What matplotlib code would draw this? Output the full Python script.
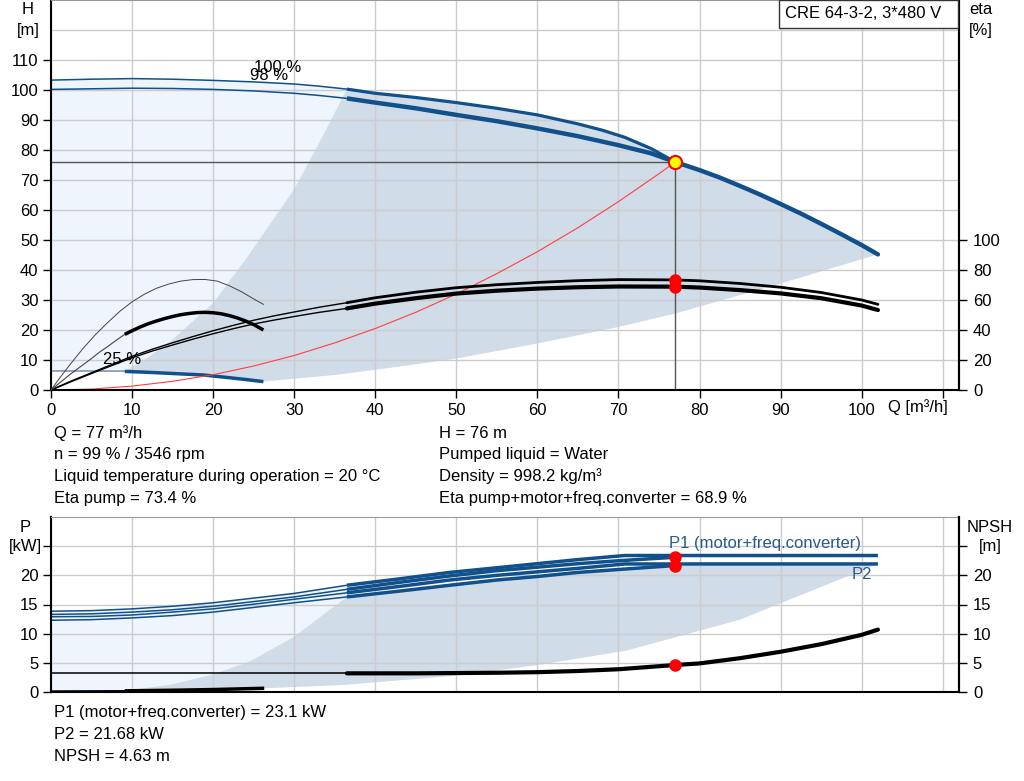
import numpy as np
import matplotlib
matplotlib.use("Agg")
import matplotlib.pyplot as plt
from matplotlib.patches import Rectangle

plt.rcParams['font.family'] = ['Liberation Sans', 'DejaVu Sans']

# ---------------- data ----------------
# head curves (Q in m3/h, H in m)
q_100_thin = [0, 5, 10, 15, 20, 25, 30, 33, 36.5]
h_100_thin = [103.3, 103.6, 103.8, 103.6, 103.2, 102.7, 102.0, 101.3, 100.3]
q_100 = [36.5, 40, 45, 50, 55, 60, 65, 68, 70.8, 74, 77]
h_100 = [100.3, 98.9, 97.5, 95.8, 93.9, 91.7, 88.7, 86.6, 84.2, 80.5, 76]
q_98_thin = [0, 5, 10, 15, 20, 25, 30, 33, 36.5]
h_98_thin = [100.2, 100.4, 100.6, 100.5, 100.2, 99.7, 98.9, 98.2, 97.2]
q_98 = [36.5, 40, 45, 50, 55, 60, 65, 70, 74, 77]
h_98 = [97.2, 95.8, 93.9, 91.7, 89.6, 87.2, 84.6, 81.6, 78.9, 76]
q_max = [77, 80, 82.5, 85, 87.5, 90, 92.5, 95, 97.5, 100, 102]
h_max = [76, 73.3, 70.8, 68, 65.1, 62, 58.8, 55.4, 51.9, 48.3, 45.2]
q_25_thin = [0, 9.1]
h_25_thin = [6.35, 6.3]
q_25 = [9.1, 12, 15, 18.8, 22, 24, 26.2]
h_25 = [6.2, 5.9, 5.5, 5.0, 4.1, 3.5, 2.8]

# operating range boundaries
q_rng_left = [9.1, 12, 15, 20, 24.5, 30, 33.2, 36.5]
h_rng_left = [6.3, 10.9, 16.8, 29, 45.4, 67, 83, 100.3]
q_rng_low = [26.2, 35, 43, 50, 60, 70, 77, 90, 102]
h_rng_low = [2.8, 5, 7.8, 10.5, 15.5, 21, 25.5, 35.5, 45.2]

# system curve
q_sys = [0, 5, 10, 15, 20, 25, 30, 35, 40, 45, 50, 55, 60, 65, 70, 75, 77]
h_sys = [0, 0.3, 1.3, 2.9, 5.1, 8.0, 11.5, 15.7, 20.5, 25.9, 32.0, 38.8, 46.1, 54.1,
         62.8, 72.1, 76]

# efficiency curves (%)
q_eta_thin = [0, 2.5, 5, 7.5, 10, 12.5, 15, 17.5, 20, 22.5, 25, 27.5, 30, 33, 36.5]
eta_pump_thin = [0, 6, 11.5, 17, 22.5, 27.2, 31.5, 35.6, 39.5, 43.1, 46.5, 49.4, 52, 55.1, 58.2]
eta_tot_thin = [0, 5.6, 11, 16.3, 21.5, 26, 30, 33.9, 37.5, 40.9, 44, 46.6, 49, 51.7, 54.4]
q_eta = [36.5, 40, 45, 50, 55, 60, 65, 70, 77, 80, 85, 90, 95, 100, 102]
eta_pump = [58.2, 61.5, 65.2, 68.2, 70.2, 71.7, 72.9, 73.6, 73.4, 72.8, 71, 68.5, 65, 60, 57.1]
eta_tot = [54.4, 57.6, 61.2, 64.3, 66.2, 67.6, 68.5, 69.0, 68.9, 68.3, 66.6, 64.4, 61.2, 56.3, 53.3]
q_eta25_pump = [0, 1, 2.5, 4, 5.5, 7, 8.5, 10, 11.5, 13, 14.5, 16, 17.5, 19, 20.5, 22,
                23.5, 25, 26.2]
eta25_pump = [0, 7.5, 18, 28, 37, 45, 52.5, 58.8, 63.8, 67.8, 70.6, 72.6, 73.6, 73.7,
              72.6, 69.5, 65.5, 60.7, 57.1]
q_eta25_tot_thin = [0, 1, 2.5, 4, 5, 6, 7, 8, 9.1]
eta25_tot_thin = [0, 4.5, 11, 17, 21, 25.3, 29, 33, 37.1]
q_eta25_tot = [9.1, 10, 11, 12, 13, 14, 15, 16, 17, 18, 19, 20, 21, 22, 23, 24, 25, 26.2]
eta25_tot = [37.1, 39.5, 42, 44.2, 46, 47.6, 49, 50.2, 51, 51.6, 51.8, 51.5, 50.8, 49.6,
             48, 46, 43.6, 40]

# power curves (kW)
q_p_thin = [0, 5, 10, 15, 20, 25, 30, 36.5]
p1_100_thin = [13.85, 13.95, 14.25, 14.7, 15.3, 16.1, 16.9, 18.3]
p1_98_thin = [13.3, 13.4, 13.7, 14.1, 14.7, 15.5, 16.3, 17.6]
p2_100_thin = [12.9, 12.95, 13.2, 13.7, 14.25, 15.05, 15.9, 17.0]
p2_98_thin = [12.3, 12.4, 12.7, 13.1, 13.7, 14.5, 15.3, 16.3]
q_p_lim = [36.5, 43, 49.2, 55, 60, 65, 70.8, 80, 90, 102]
p1_100 = [18.3, 19.4, 20.5, 21.3, 22.0, 22.7, 23.4, 23.4, 23.4, 23.4]
p2_100 = [17.0, 18.1, 19.2, 20.0, 20.6, 21.2, 21.95, 21.95, 21.95, 21.95]
q_p_98 = [36.5, 43, 49.2, 55, 60, 65, 70, 77]
p1_98 = [17.6, 18.8, 19.9, 20.8, 21.4, 22.0, 22.5, 23.1]
p2_98 = [16.3, 17.3, 18.3, 19.2, 19.8, 20.5, 21.0, 21.68]
q_p25_thin = [0, 9.1]
p25_thin = [0.15, 0.2]
q_p25 = [9.1, 15, 20, 26.3]
p25 = [0.2, 0.3, 0.42, 0.64]
q_prng_left = [9.1, 14.9, 20, 24.6, 29.9, 36.5]
p_rng_left = [0.2, 1.3, 3.0, 5.3, 9.4, 16.3]
q_prng_low = [26.3, 36, 50, 60, 71, 85, 102]
p_rng_low = [0.64, 1.2, 2.8, 4.6, 7.1, 12.4, 21.95]

# NPSH (m)
q_npsh_thin = [0, 36.5]
npsh_thin = [3.2, 3.2]
q_npsh = [36.5, 45, 50, 55, 60, 65, 70, 77, 80, 85, 90, 95, 100, 102]
npsh = [3.2, 3.2, 3.25, 3.3, 3.4, 3.6, 3.9, 4.63, 4.9, 5.8, 6.9, 8.2, 9.8, 10.7]

# duty point
q_op, h_op = 77, 76
eta_pump_op, eta_tot_op = 73.4, 68.9
p1_op, p2_op, npsh_op = 23.1, 21.68, 4.63

x_ticks = [0, 10, 20, 30, 40, 50, 60, 70, 80, 90, 100, 110]
x_labels = ['0', '10', '20', '30', '40', '50', '60', '70', '80', '90', '100', '']

info_left = ['Q = 77 m³/h', 'n = 99 % / 3546 rpm',
             'Liquid temperature during operation = 20 °C', 'Eta pump = 73.4 %']
info_right = ['H = 76 m', 'Pumped liquid = Water', 'Density = 998.2 kg/m³',
              'Eta pump+motor+freq.converter = 68.9 %']
info_power = ['P1 (motor+freq.converter) = 23.1 kW', 'P2 = 21.68 kW', 'NPSH = 4.63 m']

# ---------------- style ----------------
BLUE = '#11508a'
LIGHT = '#eef5fc'
GRAY = '#d0dce8'
GRID = '#cccccc'
FS = 12
W, H = 1024, 781


def fx(px):
    return px / W


def fy(py):
    return 1 - py / H


fig = plt.figure(figsize=(W / 100, H / 100), dpi=100)

# ================= top chart: H / eta =================
ax = fig.add_axes([fx(51), fy(390), 908 / W, 390 / H])
ax.set_xlim(0, 112)
ax.set_ylim(0, 130)
ax.set_axisbelow('line')
ax.set_xticks(x_ticks)
ax.set_xticklabels(x_labels)
ax.set_yticks(range(0, 111, 10))
ax.grid(True, color=GRID, lw=1)
ax.axhline(120, color=GRID, lw=1, zorder=1.5)
ax.tick_params(labelsize=FS, length=6, width=1, pad=3)
ax.tick_params(axis='x', pad=3)
for s in ['left', 'bottom']:
    ax.spines[s].set_linewidth(1.5)
ax.spines['top'].set_color('#999999')
ax.spines['right'].set_linewidth(1.5)

# light area (thin part of the range)
light_q = list(q_100_thin) + q_rng_left[::-1] + q_25_thin[::-1]
light_h = list(h_100_thin) + h_rng_left[::-1] + h_25_thin[::-1]
ax.fill(light_q, light_h, color=LIGHT, lw=0, zorder=1)
# operating range
rng_q = q_rng_left + q_100 + q_max[1:] + q_rng_low[::-1] + q_25[::-1]
rng_h = h_rng_left + h_100 + h_max[1:] + h_rng_low[::-1] + h_25[::-1]
ax.fill(rng_q, rng_h, color=GRAY, lw=0, zorder=1)

ax.plot(q_100_thin, h_100_thin, color=BLUE, lw=1.1)
ax.plot(q_98_thin, h_98_thin, color=BLUE, lw=1.1)
ax.plot(q_100, h_100, color=BLUE, lw=2.3, solid_capstyle='butt')
ax.plot(q_98, h_98, color=BLUE, lw=3.2, solid_capstyle='butt')
ax.plot(q_max, h_max, color=BLUE, lw=3.2, solid_capstyle='round')
ax.plot(q_25_thin, h_25_thin, color='#7a8ea8', lw=1.1)
ax.plot(q_25, h_25, color=BLUE, lw=2.5, solid_capstyle='butt')
ax.plot(q_sys, h_sys, color='#ff4040', lw=0.8)

ax.plot([0, q_op], [h_op, h_op], color='#555555', lw=1, zorder=2)
ax.plot([q_op, q_op], [0, h_op], color='#555555', lw=1, zorder=2)

ax.text(25.0, 107.6, '100 %', fontsize=FS, ha='left', va='center')
ax.text(24.5, 104.7, '98 %', fontsize=FS, ha='left', va='center')
ax.text(6.4, 10.3, '25 %', fontsize=FS, ha='left', va='center')

# eta axis
axe = ax.twinx()
axe.set_ylim(0, 260)
axe.set_yticks(range(0, 101, 20))
axe.tick_params(labelsize=FS, length=6, width=1, pad=4)
axe.spines['right'].set_linewidth(1.5)
for s in ['left', 'top', 'bottom']:
    axe.spines[s].set_visible(False)

axe.plot(q_eta_thin, eta_pump_thin, color='black', lw=1)
axe.plot(q_eta_thin, eta_tot_thin, color='black', lw=1)
axe.plot(q_eta, eta_pump, color='black', lw=2, solid_capstyle='round')
axe.plot(q_eta, eta_tot, color='black', lw=3, solid_capstyle='round')
axe.plot(q_eta25_pump, eta25_pump, color='#444444', lw=0.7)
axe.plot(q_eta25_tot_thin, eta25_tot_thin, color='#444444', lw=0.8)
axe.plot(q_eta25_tot, eta25_tot, color='black', lw=2.5, solid_capstyle='butt')
axe.plot([q_op, q_op], [eta_pump_op, eta_tot_op], 'o', color='red', ms=8, zorder=5)

# duty point, drawn on the eta axis so it sits above its curves (H = eta / 2)
axe.plot([q_op], [h_op * 2], 'o', ms=9.5, mfc='yellow', mec='red', mew=1.5, zorder=6)

# title box in the upper right corner
fig.add_artist(Rectangle((fx(779), fy(28)), 179 / W, 28 / H, transform=fig.transFigure,
                         fc='white', ec='#333333', lw=1, zorder=5))
fig.text(fx(785), fy(14), 'CRE 64-3-2, 3*480 V', fontsize=FS, ha='left', va='center',
         zorder=6)

fig.text(fx(28), fy(9), 'H', fontsize=FS, ha='center', va='center')
fig.text(fx(28), fy(30), '[m]', fontsize=FS, ha='center', va='center')
fig.text(fx(981), fy(9), 'eta', fontsize=FS, ha='center', va='center')
fig.text(fx(981), fy(30), '[%]', fontsize=FS, ha='center', va='center')
fig.text(fx(888), fy(407), 'Q [m³/h]', fontsize=FS, ha='left', va='center')

for i, t in enumerate(info_left):
    fig.text(fx(54), fy(433 + i * 21.7), t, fontsize=FS, ha='left', va='center')
for i, t in enumerate(info_right):
    fig.text(fx(439), fy(433 + i * 21.7), t, fontsize=FS, ha='left', va='center')

# ================= bottom chart: P / NPSH =================
bx = fig.add_axes([fx(51), fy(692), 908 / W, 175 / H])
bx.set_xlim(0, 112)
bx.set_ylim(0, 30)
bx.set_axisbelow('line')
bx.set_xticks(x_ticks)
bx.set_yticks(range(0, 26, 5))
bx.set_yticklabels(['0', '5', '10', '15', '20', ''])
bx.grid(True, color=GRID, lw=1)
bx.tick_params(labelsize=FS, length=6, width=1, pad=3)
bx.tick_params(axis='x', length=0, labelbottom=False)
for s in ['left', 'bottom']:
    bx.spines[s].set_linewidth(1.5)
bx.spines['top'].set_color('#999999')
bx.spines['right'].set_linewidth(1.5)

plight_q = list(q_p_thin) + q_prng_left[::-1] + q_p25_thin[::-1]
plight_p = list(p1_100_thin) + p_rng_left[::-1] + p25_thin[::-1]
bx.fill(plight_q, plight_p, color=LIGHT, lw=0, zorder=1)
prng_q = q_prng_left + q_p_98 + q_p_lim[-3:] + q_prng_low[::-1] + q_p25[::-1]
prng_p = p_rng_left + p2_98 + p2_100[-3:] + p_rng_low[::-1] + p25[::-1]
bx.fill(prng_q, prng_p, color=GRAY, lw=0, zorder=1)

for p in [p1_100_thin, p1_98_thin, p2_100_thin, p2_98_thin]:
    bx.plot(q_p_thin, p, color=BLUE, lw=1.1)
bx.plot(q_p_lim, p1_100, color=BLUE, lw=2.5, solid_capstyle='butt')
bx.plot(q_p_lim, p2_100, color=BLUE, lw=2.5, solid_capstyle='butt')
bx.plot(q_p_98, p1_98, color=BLUE, lw=2.5, solid_capstyle='butt')
bx.plot(q_p_98, p2_98, color=BLUE, lw=2.5, solid_capstyle='butt')
bx.plot(q_p25_thin, p25_thin, color='black', lw=1.2)
bx.plot(q_p25, p25, color='black', lw=2.5, solid_capstyle='butt')
bx.plot([q_op, q_op], [p1_op, p2_op], 'o', color='red', ms=8, zorder=5)

bx.text(76.2, 25.4, 'P1 (motor+freq.converter)', fontsize=FS, color='#2a5a8c',
        ha='left', va='center')
bx.text(98.7, 20.1, 'P2', fontsize=FS, color='#2a5a8c', ha='left', va='center')

bn = bx.twinx()
bn.set_ylim(0, 30)
bn.set_yticks(range(0, 26, 5))
bn.set_yticklabels(['0', '5', '10', '15', '20', ''])
bn.tick_params(labelsize=FS, length=6, width=1, pad=4)
bn.spines['right'].set_linewidth(1.5)
for s in ['left', 'top', 'bottom']:
    bn.spines[s].set_visible(False)
bn.plot(q_npsh_thin, npsh_thin, color='black', lw=1.1)
bn.plot(q_npsh, npsh, color='black', lw=3, solid_capstyle='round')
bn.plot([q_op], [npsh_op], 'o', color='red', ms=8, zorder=5)

fig.text(fx(25), fy(528), 'P', fontsize=FS, ha='center', va='center')
fig.text(fx(25), fy(547), '[kW]', fontsize=FS, ha='center', va='center')
fig.text(fx(990), fy(528), 'NPSH', fontsize=FS, ha='center', va='center')
fig.text(fx(990), fy(547), '[m]', fontsize=FS, ha='center', va='center')

for i, t in enumerate(info_power):
    fig.text(fx(54), fy(713 + i * 21.7), t, fontsize=FS, ha='left', va='center')

fig.savefig('out.png', dpi=100)
